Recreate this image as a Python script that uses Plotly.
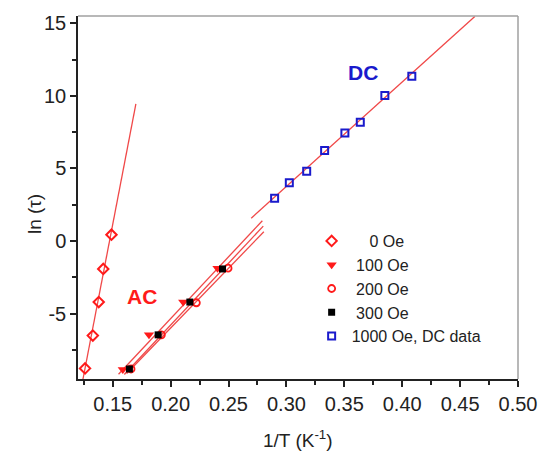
import plotly.graph_objects as go

# ---- data ----
oe0_x = [0.1261, 0.1328, 0.1379, 0.1418, 0.1489]
oe0_y = [-8.77, -6.51, -4.20, -1.92, 0.44]

oe100_x = [0.1587, 0.1813, 0.2109, 0.2405]
oe100_y = [-8.85, -6.46, -4.20, -1.87]

oe200_x = [0.1658, 0.1920, 0.2222, 0.2496]
oe200_y = [-8.81, -6.46, -4.25, -1.87]

oe300_x = [0.1644, 0.1892, 0.2166, 0.2448]
oe300_y = [-8.81, -6.46, -4.20, -1.92]

dc_x = [0.2898, 0.3025, 0.3175, 0.3330, 0.3505, 0.3638, 0.3850, 0.4083]
dc_y = [2.95, 4.02, 4.80, 6.23, 7.45, 8.18, 10.03, 11.35]

# fitted-line end points
fit0_x = [0.1243, 0.1700]
fit0_y = [-9.50, 9.45]
fit100_x = [0.1550, 0.2792]
fit100_y = [-9.17, 1.40]
fit300_x = [0.1600, 0.2800]
fit300_y = [-9.19, 1.03]
fit200_x = [0.1620, 0.2805]
fit200_y = [-9.12, 0.64]
fitdc_x = [0.2696, 0.4627]
fitdc_y = [1.575, 15.46]

y_tickvals = [-5, 0, 5, 10, 15]
y_ticktext = ["-5", "0", "5", "10", "15"]
x_tickvals = [0.15, 0.20, 0.25, 0.30, 0.35, 0.40, 0.45, 0.50]
x_ticktext = ["0.15", "0.20", "0.25", "0.30", "0.35", "0.40", "0.45", "0.50"]

names = ["\u00a0\u00a0\u00a0\u00a00 Oe", "\u00a0100 Oe", "\u00a0200 Oe", "\u00a0300 Oe", "1000 Oe, DC data"]

RED = "#ff1a1a"
LRED = "#f04848"
BLUE = "#1a1acc"
FONT = "Liberation Sans, Arial, sans-serif"

fig = go.Figure()

# fit lines
for fx, fy in [(fit0_x, fit0_y), (fit100_x, fit100_y), (fit300_x, fit300_y),
               (fit200_x, fit200_y), (fitdc_x, fitdc_y)]:
    fig.add_trace(go.Scatter(x=fx, y=fy, mode="lines", showlegend=False,
                             line=dict(color=LRED, width=1.3), hoverinfo="skip"))

fig.add_trace(go.Scatter(x=oe0_x, y=oe0_y, mode="markers", name=names[0],
                         marker=dict(symbol="diamond-open", size=8, color=RED,
                                     line=dict(width=2, color=RED))))
fig.add_trace(go.Scatter(x=oe100_x, y=oe100_y, mode="markers", name=names[1],
                         marker=dict(symbol="triangle-down", size=9, color=RED,
                                     line=dict(width=0))))
fig.add_trace(go.Scatter(x=oe200_x, y=oe200_y, mode="markers", name=names[2],
                         marker=dict(symbol="circle-open", size=7, color=RED,
                                     line=dict(width=1.8, color=RED))))
fig.add_trace(go.Scatter(x=oe300_x, y=oe300_y, mode="markers", name=names[3],
                         marker=dict(symbol="square", size=7, color="black",
                                     line=dict(width=0))))
fig.add_trace(go.Scatter(x=dc_x, y=dc_y, mode="markers", name=names[4],
                         marker=dict(symbol="square-open", size=7, color=BLUE,
                                     line=dict(width=2, color=BLUE))))

axis_common = dict(
    showline=True, linecolor="#222", linewidth=1.5, mirror=False,
    ticks="outside", ticklen=6, tickwidth=1.5, tickcolor="#222",
    showgrid=False, zeroline=False,
    tickfont=dict(family=FONT, size=20, color="#222"),
)

fig.update_xaxes(range=[0.12, 0.50], tickvals=x_tickvals, ticktext=x_ticktext,
                 minor=dict(dtick=0.025, tick0=0.0, ticks="outside", ticklen=4,
                            tickwidth=1.5, tickcolor="#222"),
                 **axis_common)
fig.update_yaxes(range=[-9.5, 15.5], tickvals=y_tickvals, ticktext=y_ticktext,
                 minor=dict(dtick=2.5, tick0=0, ticks="outside", ticklen=4,
                            tickwidth=1.5, tickcolor="#222"),
                 **axis_common)

fig.update_layout(
    width=549, height=451,
    margin=dict(l=78, r=22, t=14, b=72),
    plot_bgcolor="white", paper_bgcolor="white",
    font=dict(family=FONT, color="#222"),
    legend=dict(x=0.531, y=0.427, xanchor="left", yanchor="top",
                bgcolor="rgba(0,0,0,0)", borderwidth=0,
                font=dict(family=FONT, size=16, color="#222"),
                tracegroupgap=0, itemwidth=30),
    shapes=[
        dict(type="line", xref="paper", yref="paper", x0=0, x1=1, y0=1, y1=1,
             line=dict(color="#a0a0a0", width=1.5)),
        dict(type="line", xref="paper", yref="paper", x0=1, x1=1, y0=0, y1=1,
             line=dict(color="#a0a0a0", width=1.5)),
    ],
    annotations=[
        dict(text="<b>DC</b>", x=0.366, y=11.62, xref="x", yref="y", showarrow=False,
             font=dict(family=FONT, size=21, color=BLUE)),
        dict(text="<b>AC</b>", x=0.1754, y=-3.79, xref="x", yref="y", showarrow=False,
             font=dict(family=FONT, size=21, color=RED)),
        dict(text="ln (\u03c4)", x=-0.1256, y=0.455, xref="paper", yref="paper",
             showarrow=False, textangle=-90,
             font=dict(family=FONT, size=19, color="#222")),
        dict(text="1/T (K<sup>-1</sup>)", x=0.5, y=-0.164, xref="paper", yref="paper",
             showarrow=False, yanchor="middle",
             font=dict(family=FONT, size=19, color="#222")),
    ],
)

fig.write_html("out.html")
